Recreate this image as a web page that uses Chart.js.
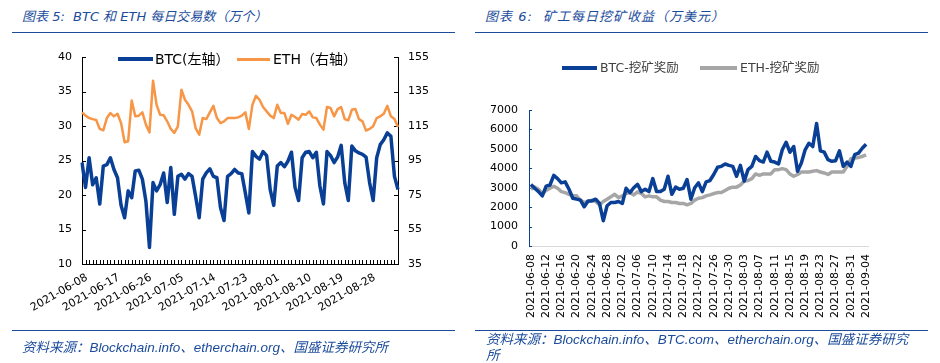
<!DOCTYPE html>
<html>
<head>
<meta charset="utf-8">
<script src="https://cdn.jsdelivr.net/npm/chart.js@4.4.0/dist/chart.umd.min.js"></script>
<style>
html, body { margin: 0; padding: 0; background: #fff; }
body { width: 940px; height: 363px; position: relative; overflow: hidden;
       font-family: "DejaVu Sans", "Noto Sans CJK SC", sans-serif; }
canvas { position: absolute; top: 0; }
.title { position: absolute; top: 8px; font-size: 13px; line-height: 18px; font-style: italic;
         color: #1b4b9b; white-space: pre; }
.rule { position: absolute; height: 0; border-top: 1.5px solid #1b4b9b; }
.src { position: absolute; font-family: "Liberation Sans", "Noto Sans CJK SC", sans-serif;
       font-size: 13.5px; line-height: 16px; font-style: italic; color: #1b4b9b; white-space: nowrap; }
.leg { position: absolute; white-space: nowrap; line-height: 16px; }
.sw { position: absolute; }
</style>
</head>
<body>

<div class="title" style="left:22px">图表 5:  BTC 和 ETH 每日交易数（万个）</div>
<div class="rule" style="left:12px;width:443px;top:32px"></div>
<div class="title" style="left:485px;letter-spacing:1px">图表 6:  矿工每日挖矿收益（万美元）</div>
<div class="rule" style="left:475px;width:453px;top:32px"></div>

<canvas id="txChart" width="470" height="363" style="left:0"></canvas>
<canvas id="mineChart" width="470" height="363" style="left:470px"></canvas>

<!-- legends -->
<div class="sw" style="left:118px;top:57px;width:35px;height:4px;background:#0a3f96"></div>
<div class="leg" style="left:155px;top:51px;font-size:14px;color:#000">BTC(左轴）</div>
<div class="sw" style="left:237px;top:57.5px;width:33px;height:3px;background:#f79646"></div>
<div class="leg" style="left:273px;top:51px;font-size:14px;color:#000">ETH（右轴）</div>

<div class="sw" style="left:562px;top:66px;width:35px;height:4px;background:#0a3f96"></div>
<div class="leg" style="left:600px;top:60px;font-size:12.5px;color:#404040">BTC-挖矿奖励</div>
<div class="sw" style="left:700px;top:66px;width:37px;height:4px;background:#a6a6a6"></div>
<div class="leg" style="left:740px;top:60px;font-size:12.5px;color:#404040">ETH-挖矿奖励</div>

<div class="rule" style="left:12px;width:443px;top:330px"></div>
<div class="src" style="left:22px;top:340px">资料来源：Blockchain.info、etherchain.org、国盛证券研究所</div>
<div class="rule" style="left:475px;width:453px;top:330px"></div>
<div class="src" style="left:486px;top:332px">资料来源：Blockchain.info、BTC.com、etherchain.org、国盛证券研究<br>所</div>

<script>
// daily dates starting 2021-06-08
function makeDates(start, n) {
    const out = [];
    const d = new Date(start + "T00:00:00Z");
    for (let i = 0; i < n; i++) {
        out.push(d.toISOString().slice(0, 10));
        d.setUTCDate(d.getUTCDate() + 1);
    }
    return out;
}

// chart 5: daily transactions (10k)
const txDates = makeDates("2021-06-08", 90);
const btcTx = [
    24.7, 21.1, 25.4, 21.5, 22.5, 18.7, 24.2, 24.4, 25.4, 23.7,
    22.5, 18.5, 16.7, 20.6, 19.6, 23.5, 23.6, 22.3, 19.1, 12.4,
    21.8, 20.6, 21.5, 23.2, 18.9, 24.0, 17.2, 22.7, 23.0, 22.3,
    23.1, 22.7, 19.8, 16.7, 22.3, 23.2, 23.8, 22.7, 22.5, 18.2,
    16.3, 22.7, 23.1, 23.7, 23.2, 23.1, 20.3, 17.4, 26.3, 25.6,
    25.2, 26.3, 25.7, 20.8, 18.5, 24.2, 24.7, 24.1, 24.9, 26.2,
    21.1, 19.2, 25.4, 26.2, 26.3, 25.4, 26.2, 21.3, 18.7, 26.3,
    25.7, 24.7, 25.5, 27.2, 21.8, 19.2, 27.1, 26.4, 26.1, 25.9,
    25.5, 21.8, 19.2, 25.4, 27.3, 28.0, 29.0, 28.5, 22.7, 20.8
];
const ethTx = [
    122.9, 121.0, 119.6, 119.0, 118.5, 113.3, 112.5, 119.6, 122.5, 120.6,
    122.1, 116.7, 105.6, 106.2, 129.8, 120.6, 121.0, 122.9, 115.8, 111.3,
    141.3, 127.3, 121.5, 121.2, 117.7, 113.3, 111.0, 114.8, 136.0, 130.2,
    127.3, 123.5, 113.8, 110.0, 119.6, 119.0, 122.9, 126.7, 119.6, 116.7,
    117.7, 119.6, 119.6, 119.6, 120.0, 121.0, 122.9, 113.3, 127.3, 132.5,
    130.2, 126.0, 123.5, 121.0, 119.6, 127.3, 122.5, 122.5, 116.3, 121.5,
    120.2, 118.7, 121.9, 121.5, 123.5, 120.0, 119.6, 115.8, 112.9, 126.0,
    125.4, 120.6, 124.8, 126.0, 119.0, 118.3, 124.4, 124.8, 119.0, 117.7,
    112.3, 113.3, 114.8, 119.6, 120.6, 122.1, 126.7, 120.6, 119.0, 114.4
];

// chart 6: daily mining revenue (10k USD)
const mineDates = makeDates("2021-06-08", 89);
const btcMine = [
    3170, 2970, 2800, 2580, 3080, 3140, 3640, 3470, 3250, 3300,
    2920, 2460, 2410, 2360, 2020, 2320, 2320, 2410, 2190, 1300,
    2070, 2240, 2240, 2290, 2190, 2970, 2750, 3000, 3170, 2800,
    2920, 2800, 3470, 2800, 2800, 2920, 3590, 2660, 3030, 2920,
    2970, 3420, 2410, 3000, 3250, 2800, 3300, 3370, 3680, 4050,
    4100, 4220, 4150, 4100, 3590, 4150, 3340, 3930, 4100, 4610,
    4390, 4320, 4830, 4360, 4320, 4220, 4950, 5340, 4830, 5120,
    3850, 4270, 4950, 5290, 5120, 6300, 4900, 4830, 4440, 4360,
    4390, 4900, 4100, 4320, 4100, 4700, 4780, 5030, 5240
];
const ethMine = [
    2920, 3030, 2920, 2700, 2860, 2970, 3080, 2970, 2800, 2750,
    2660, 2580, 2580, 2360, 2240, 2290, 2360, 2290, 2120, 2290,
    2410, 2530, 2660, 2490, 2580, 2700, 2750, 2630, 2780, 2700,
    2530, 2580, 2530, 2530, 2360, 2290, 2290, 2240, 2240, 2190,
    2190, 2120, 2190, 2360, 2460, 2490, 2580, 2630, 2700, 2750,
    2750, 2860, 2970, 3030, 3030, 3140, 3340, 3370, 3470, 3710,
    3640, 3710, 3710, 3710, 3930, 3930, 3980, 3930, 3710, 3590,
    3680, 3810, 3810, 3810, 3850, 3880, 3810, 3760, 3680, 3810,
    3810, 3810, 3810, 4100, 4490, 4530, 4560, 4610, 4690
];

const BLUE = "#0a3f96";
const ORANGE = "#f79646";
const GREY = "#a6a6a6";
const tickFont = { family: "DejaVu Sans", size: 11 };

// small tick marks drawn on the inside of the axes
const innerTicks = {
    id: "innerTicks",
    beforeDatasetsDraw(chart, args, opts) {
        const { ctx, chartArea } = chart;
        ctx.save();
        ctx.lineWidth = 1;
        (opts.marks || []).forEach(function (m) {
            const scale = chart.scales[m.axis];
            ctx.strokeStyle = m.color;
            ctx.beginPath();
            if (scale.isHorizontal()) {
                for (let i = 0; i < chart.data.labels.length; i++) {
                    const x = Math.round(scale.getPixelForValue(i)) + 0.5;
                    ctx.moveTo(x, chartArea.bottom);
                    ctx.lineTo(x, chartArea.bottom - m.len);
                }
            } else {
                const x0 = m.side === "left" ? chartArea.left : chartArea.right;
                const dir = m.side === "left" ? 1 : -1;
                scale.ticks.forEach(function (t) {
                    const y = Math.round(scale.getPixelForValue(t.value)) + 0.5;
                    ctx.moveTo(x0, y);
                    ctx.lineTo(x0 + dir * m.len, y);
                });
            }
            ctx.stroke();
        });
        ctx.restore();
    }
};

new Chart(document.getElementById("txChart"), {
    type: "line",
    data: {
        labels: txDates,
        datasets: [
            { label: "BTC(左轴）", data: btcTx, yAxisID: "y", borderColor: BLUE, borderWidth: 3.5,
              pointRadius: 0, borderJoinStyle: "round", order: 1 },
            { label: "ETH（右轴）", data: ethTx, yAxisID: "y1", borderColor: ORANGE, borderWidth: 2.5,
              pointRadius: 0, borderJoinStyle: "round", order: 2 }
        ]
    },
    options: {
        responsive: false,
        animation: false,
        layout: { padding: { top: 57, left: 0, right: 0, bottom: 0 } },
        plugins: {
            legend: { display: false },
            tooltip: { enabled: false },
            innerTicks: {
                marks: [
                    { axis: "x", len: 4, color: "#000" },
                    { axis: "y", side: "left", len: 4, color: "#000" },
                    { axis: "y1", side: "right", len: 4, color: "#000" }
                ]
            }
        },
        scales: {
            x: {
                offset: false,
                grid: { display: false, drawTicks: false },
                border: { display: true, color: "#000", width: 1 },
                ticks: {
                    autoSkip: false, minRotation: 30, maxRotation: 30, padding: 7, labelOffset: 5,
                    color: "#000", font: tickFont,
                    callback: function (v, i) { return i % 9 === 0 ? txDates[i] : ""; }
                },
                afterFit: function (s) { s.height = 99; }
            },
            y: {
                position: "left", min: 10, max: 40,
                grid: { display: false, drawTicks: false },
                border: { display: true, color: "#000", width: 1 },
                ticks: { stepSize: 5, padding: 10, color: "#000", font: tickFont },
                afterFit: function (s) { s.width = 82; }
            },
            y1: {
                position: "right", min: 35, max: 155,
                grid: { display: false, drawTicks: false },
                border: { display: true, color: "#000", width: 1 },
                ticks: { stepSize: 20, padding: 10, color: "#000", font: tickFont },
                afterFit: function (s) { s.width = 72; }
            }
        }
    },
    plugins: [innerTicks]
});

new Chart(document.getElementById("mineChart"), {
    type: "line",
    data: {
        labels: mineDates,
        datasets: [
            { label: "BTC-挖矿奖励", data: btcMine, borderColor: BLUE, borderWidth: 3.5,
              pointRadius: 0, borderJoinStyle: "round", order: 1 },
            { label: "ETH-挖矿奖励", data: ethMine, borderColor: GREY, borderWidth: 3.5,
              pointRadius: 0, borderJoinStyle: "round", order: 2 }
        ]
    },
    options: {
        responsive: false,
        animation: false,
        layout: { padding: { top: 110, left: 0, right: 72, bottom: 0 } },
        plugins: {
            legend: { display: false },
            tooltip: { enabled: false },
            innerTicks: {
                marks: [{ axis: "y", side: "left", len: 3, color: BLUE }]
            }
        },
        scales: {
            x: {
                offset: true,
                grid: { display: false, drawTicks: false },
                border: { display: true, color: "#d9d9d9", width: 1 },
                ticks: {
                    autoSkip: false, minRotation: 90, maxRotation: 90, padding: 8,
                    color: "#000", font: tickFont,
                    callback: function (v, i) { return i % 4 === 0 ? mineDates[i] : ""; }
                },
                afterFit: function (s) { s.height = 117; }
            },
            y: {
                min: 0, max: 7000,
                grid: { display: false, drawTicks: false },
                border: { display: true, color: BLUE, width: 1 },
                ticks: { stepSize: 1000, padding: 11, color: "#000", font: tickFont,
                         callback: function (v) { return String(v); } },
                afterFit: function (s) { s.width = 59; }
            }
        }
    },
    plugins: [innerTicks]
});
</script>
</body>
</html>
